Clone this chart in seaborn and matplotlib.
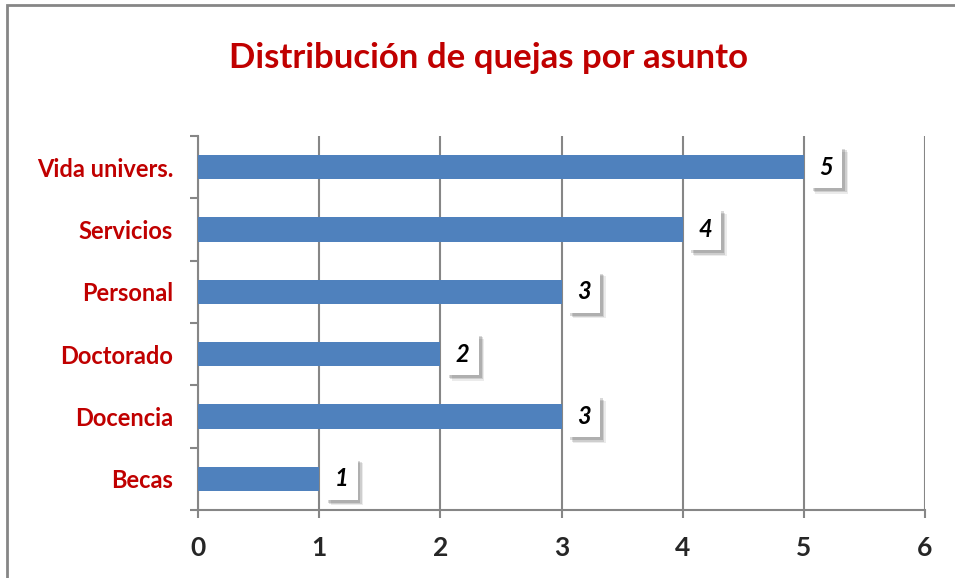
import matplotlib
matplotlib.use("Agg")
import matplotlib.pyplot as plt
import matplotlib.patheffects as pe
from matplotlib.ticker import FixedLocator
import seaborn as sns
import pandas as pd

categories = ["Vida univers.", "Servicios", "Personal", "Doctorado", "Docencia", "Becas"]
values = [5, 4, 3, 2, 3, 1]
x_ticks = [0, 1, 2, 3, 4, 5, 6]
title = "Distribución de quejas por asunto"

sns.set_theme(style="white")
plt.rcParams['font.family'] = ['Lato', 'DejaVu Sans']

df = pd.DataFrame({"asunto": categories, "quejas": values})

fig = plt.figure(figsize=(9.55, 5.78), dpi=100)
ax = fig.add_axes([198/955, 1-510/578, (925-198)/955, (510-136)/578])

sns.barplot(data=df, y="asunto", x="quejas", order=categories, orient="h",
            color="#4F81BD", saturation=1, width=0.39, linewidth=0, ax=ax, zorder=3)

ax.set_xlim(0, 6)
ax.set_ylim(5.5, -0.5)
ax.set_xticks(x_ticks)
ax.set_xlabel("")
ax.set_ylabel("")
ax.grid(axis="x", color="#868686", linewidth=1.5, zorder=0)
ax.set_axisbelow(True)
for s in ["top", "right"]:
    ax.spines[s].set_visible(False)
for s in ["left", "bottom"]:
    ax.spines[s].set_color("#868686")
    ax.spines[s].set_linewidth(1.5)

ax.yaxis.set_minor_locator(FixedLocator([i - 0.5 for i in range(len(categories) + 1)]))
ax.tick_params(axis="y", which="major", length=0, pad=18, labelsize=17, labelcolor="#C00000")
ax.tick_params(axis="y", which="minor", left=True, length=6, width=1.5, color="#868686")
ax.tick_params(axis="x", which="major", bottom=True, length=6, width=1.5, color="#868686",
               pad=13, labelsize=19, labelcolor="#262626")
for lab in ax.get_yticklabels():
    lab.set_fontweight("bold")
for lab in ax.get_xticklabels():
    lab.set_fontweight("bold")

for i, v in enumerate(values):
    t = ax.annotate(str(v), xy=(v, i), xytext=(16, 0), textcoords="offset points",
                    ha="center", va="center", fontsize=17, fontweight="bold",
                    fontstyle="italic", color="black", zorder=5,
                    bbox=dict(boxstyle="square,pad=0.4", fc="white", ec="none"))
    t.get_bbox_patch().set_path_effects([
        pe.SimplePatchShadow(offset=(4, -4), shadow_rgbFace="#000000", alpha=0.08),
        pe.SimplePatchShadow(offset=(3, -3), shadow_rgbFace="#000000", alpha=0.12),
        pe.SimplePatchShadow(offset=(2, -2), shadow_rgbFace="#000000", alpha=0.15),
        pe.Normal()])

fig.text(488/955, 1-58/578, title, ha="center", va="center", fontsize=25,
         fontweight="bold", color="#C00000")

border = plt.Rectangle((7/955, -0.1), 1.2, 1 - 5/578 + 0.1, transform=fig.transFigure,
                       fill=False, ec="#868686", lw=2, clip_on=False)
fig.patches.append(border)

fig.savefig("out.png", dpi=100)
